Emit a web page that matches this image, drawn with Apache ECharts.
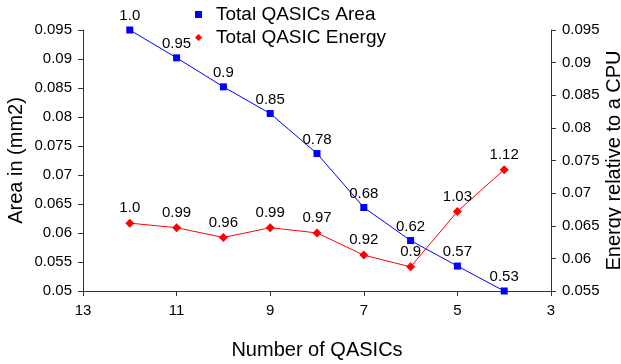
<!DOCTYPE html>
<html>
<head>
<meta charset="utf-8">
<script src="https://cdn.jsdelivr.net/npm/echarts@6/dist/echarts.min.js"></script>
<style>
  html, body { margin: 0; padding: 0; background: #fff; }
  #chart { width: 621px; height: 364px; }
</style>
</head>
<body>
<div id="chart"></div>
<script>
var qasics = [12, 11, 10, 9, 8, 7, 6, 5, 4];
var areaValues = [0.095, 0.0902, 0.0852, 0.0806, 0.0737, 0.0644, 0.0587, 0.0543, 0.050];
var areaLabels = ['1.0', '0.95', '0.9', '0.85', '0.78', '0.68', '0.62', '0.57', '0.53'];
var energyValues = [0.0654, 0.0647, 0.0632, 0.0647, 0.0639, 0.0605, 0.0587, 0.0672, 0.0736];
var energyLabels = ['1.0', '0.99', '0.96', '0.99', '0.97', '0.92', '0.9', '1.03', '1.12'];

var font = 'Liberation Sans';
var axisColor = '#333';

function pairs(ys) {
    return qasics.map(function (x, i) { return [x, ys[i]]; });
}

var chart = echarts.init(document.getElementById('chart'));
var option = {
    animation: false,
    textStyle: { fontFamily: font },
    grid: { left: 83, right: 70, top: 30, bottom: 73, outerBoundsMode: 'none', containLabel: false },
    legend: {
        orient: 'vertical',
        left: 195,
        top: 5,
        padding: 0,
        itemWidth: 7,
        itemHeight: 7,
        itemGap: 4,
        textStyle: { fontSize: 19, color: '#000', fontFamily: font, padding: [0, 0, 0, 9] },
        data: [
            { name: 'Total QASICs Area', icon: 'rect' },
            { name: 'Total QASIC Energy', icon: 'diamond' }
        ]
    },
    xAxis: {
        type: 'value',
        inverse: true,
        min: 3,
        max: 13,
        interval: 2,
        name: 'Number of QASICs',
        nameLocation: 'middle',
        nameGap: 49,
        nameMoveOverlap: false,
        nameTextStyle: { fontSize: 20, color: '#000', fontFamily: font },
        axisLine: { lineStyle: { color: axisColor } },
        axisTick: { length: 5, lineStyle: { color: axisColor } },
        axisLabel: { fontSize: 15, color: '#000', margin: 12 },
        splitLine: { show: false }
    },
    yAxis: [{
        type: 'value',
        min: 0.05,
        max: 0.095,
        interval: 0.005,
        name: 'Area in (mm2)',
        nameLocation: 'middle',
        nameGap: 57,
        nameMoveOverlap: false,
        nameTextStyle: { fontSize: 20, color: '#000', fontFamily: font },
        axisLine: { show: true, lineStyle: { color: axisColor } },
        axisTick: { show: true, length: 5, lineStyle: { color: axisColor } },
        axisLabel: { fontSize: 15, color: '#000', margin: 11 },
        splitLine: { show: false }
    }, {
        type: 'value',
        position: 'right',
        min: 0.055,
        max: 0.095,
        interval: 0.005,
        name: 'Energy relative to a CPU',
        nameLocation: 'middle',
        nameGap: 53,
        nameRotate: 90,
        nameMoveOverlap: false,
        nameTextStyle: { fontSize: 20, color: '#000', fontFamily: font },
        axisLine: { show: true, lineStyle: { color: axisColor } },
        axisTick: { show: true, length: 5, lineStyle: { color: axisColor } },
        axisLabel: { fontSize: 15, color: '#000', margin: 11 },
        splitLine: { show: false }
    }],
    series: [{
        name: 'Total QASICs Area',
        type: 'line',
        yAxisIndex: 0,
        data: pairs(areaValues),
        symbol: 'rect',
        symbolSize: 7,
        color: '#0000ff',
        lineStyle: { width: 1, color: '#0000ff' },
        itemStyle: { color: '#0000ff' },
        label: {
            show: true,
            position: 'top',
            distance: 3,
            fontSize: 15,
            color: '#000',
            formatter: function (p) { return areaLabels[p.dataIndex]; }
        }
    }, {
        name: 'Total QASIC Energy',
        type: 'line',
        yAxisIndex: 1,
        data: pairs(energyValues),
        symbol: 'diamond',
        symbolSize: 9,
        color: '#ff0000',
        lineStyle: { width: 1, color: '#ff0000' },
        itemStyle: { color: '#ff0000' },
        label: {
            show: true,
            position: 'top',
            distance: 3,
            fontSize: 15,
            color: '#000',
            formatter: function (p) { return energyLabels[p.dataIndex]; }
        }
    }]
};
chart.setOption(option);
</script>
</body>
</html>
